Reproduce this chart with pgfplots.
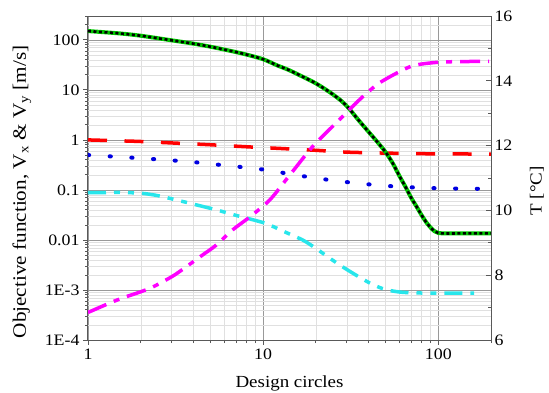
\documentclass[border=0pt]{standalone}
\usepackage{fontspec}
\setmainfont{Liberation Serif}[FakeStretch=1.12]
\usepackage{pgfplots}
\pgfplotsset{compat=1.18}
\usepackage{pgfplotstable}
\definecolor{cRed}{RGB}{255,0,0}
\definecolor{cBlue}{RGB}{0,0,225}
\definecolor{cCyan}{RGB}{40,230,235}
\definecolor{cMag}{RGB}{255,0,255}
\definecolor{cGreen}{RGB}{0,200,0}

\pgfplotstableread{
x y
1 150
1.5 135
2 121
3 98
4 84
5 73
6 64
7 57
8 51
10 41
12 31
14 25
17 18
20 13.5
24 9
28 6
31 4.2
35 2.5
40 1.45
45 0.9
50 0.57
55 0.34
60 0.19
65 0.115
70 0.07
75 0.047
80 0.032
85 0.023
90 0.018
95 0.015
100 0.0138
110 0.0135
130 0.0135
160 0.0135
200 0.0135
}\objdata

\pgfplotstableread{
x y
1 1.0
1.5 0.96
2 0.93
3 0.87
5 0.8
8 0.73
12 0.68
20 0.62
30 0.57
50 0.545
80 0.53
120 0.525
200 0.52
}\reddata

\pgfplotstableread{
x y
1 0.5
2 0.43
3 0.39
4.35 0.35
6 0.31
8 0.28
10.5 0.25
14 0.21
18.4 0.18
25 0.155
35 0.135
45 0.125
60 0.116
100 0.108
200 0.105
}\bluedata

\pgfplotstableread{
x y
1 0.088
1.5 0.089
2 0.086
2.5 0.077
3.2 0.063
4 0.052
5.4 0.04
7 0.031
8.5 0.026
10.5 0.021
13 0.015
16.8 0.01
20 0.0068
23 0.0048
28 0.003
35.5 0.0018
42 0.0013
50 0.00102
62 0.0009
80 0.00087
100 0.00087
160 0.00087
}\cyandata

\pgfplotstableread{
x T
1 6.85
1.33 7.14
1.58 7.3
1.98 7.48
2.35 7.64
3 7.95
3.43 8.16
4.5 8.62
5.4 8.93
6.7 9.4
8.4 9.8
10.9 10.32
14 11.05
19.1 11.96
25 12.6
31 13.1
36.9 13.5
46 13.93
62.5 14.33
75 14.49
106 14.58
195 14.6
}\tempdata

\begin{document}
\begin{tikzpicture}
\pgfplotsset{
  every axis/.append style={
    font=\fontsize{16}{19}\selectfont,
    /pgf/number format/assume math mode=true,
    axis line style={black!65, line width=1bp},
    major tick length=5bp, minor tick length=3bp,
    every tick/.style={black!65, line width=0.8bp},
  },
}
\begin{axis}[
  name=ax,
  scale only axis, width=403bp, height=324bp,
  xmode=log, ymode=log,
  xmin=1, xmax=200, ymin=1e-4, ymax=300,
  xtick={1,10,100}, xticklabels={1,10,100},
  minor xtick={2,3,4,5,6,7,8,9,20,30,40,50,60,70,80,90,200},
  ytick={1e-4,1e-3,0.01,0.1,1,10,100},
  yticklabels={1E-4,1E-3,0.01,0.1,1,10,100},
  minor ytick={2e-4,3e-4,4e-4,5e-4,6e-4,7e-4,8e-4,9e-4,
    2e-3,3e-3,4e-3,5e-3,6e-3,7e-3,8e-3,9e-3,
    0.02,0.03,0.04,0.05,0.06,0.07,0.08,0.09,
    0.2,0.3,0.4,0.5,0.6,0.7,0.8,0.9,
    2,3,4,5,6,7,8,9,20,30,40,50,60,70,80,90,200,300},
  xtick pos=bottom, ytick pos=left,
  tick align=outside,
  grid=both,
  major grid style={black!40, line width=0.6bp},
  minor grid style={black!12, line width=0.4bp},
  xlabel={Design circles},
  ylabel={Objective function, V\textsubscript{x} \& V\textsubscript{y} [m/s]},
  xlabel style={at={(axis description cs:0.5,-0.133)}, anchor=center, font=\fontsize{17}{20}\selectfont},
  ylabel style={at={(axis description cs:-0.164,0.457)}, anchor=center, font=\fontsize{19}{22}\selectfont},
]
\addplot[cRed, line width=3.5bp, dash pattern=on 19bp off 17.5bp, smooth] table[x=x,y=y] {\reddata};
\addplot[cBlue, line width=4bp, line cap=round, dash pattern=on 1.2bp off 20.5bp, smooth] table[x=x,y=y] {\bluedata};
\addplot[cCyan, line width=3.5bp, dash pattern=on 18bp off 8bp on 6bp off 8bp on 6bp off 8bp, smooth] table[x=x,y=y] {\cyandata};
\addplot[cGreen, line width=4bp, smooth] table[x=x,y=y] {\objdata};
\addplot[black, line width=2.6bp, dash pattern=on 3bp off 2.5bp, smooth] table[x=x,y=y] {\objdata};
\end{axis}
\begin{axis}[
  scale only axis, width=403bp, height=324bp,
  xmode=log, xmin=1, xmax=200,
  ymin=6, ymax=16,
  axis x line=none,
  axis y line*=right,
  ytick={6,8,10,12,14,16},
  minor ytick={7,9,11,13,15},
  tick align=inside,
  ylabel={T [°C]},
  ylabel style={at={(axis description cs:1.114,0.46)}, anchor=center, font=\fontsize{17}{20}\selectfont},
]
\addplot[cMag, line width=3.5bp, dash pattern=on 20bp off 8bp on 6bp off 8bp, smooth] table[x=x,y=T] {\tempdata};
\end{axis}
\pgfresetboundingbox
\path[use as bounding box] ([shift={(-88bp,-53bp)}]ax.south west) rectangle ([shift={(58bp,16bp)}]ax.north east);
\end{tikzpicture}
\end{document}
